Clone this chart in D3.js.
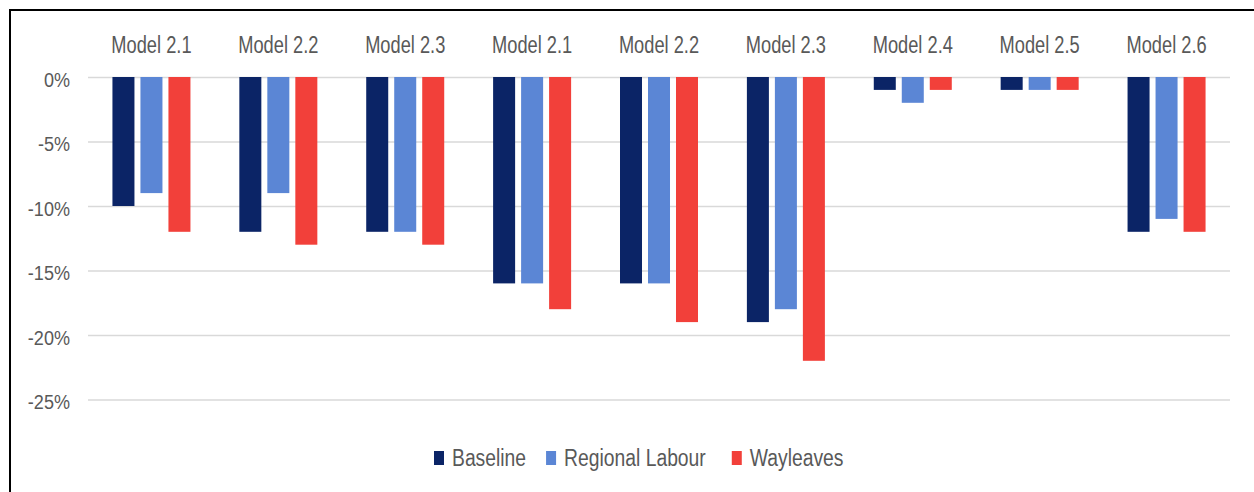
<!DOCTYPE html>
<html>
<head>
<meta charset="utf-8">
<script src="https://cdn.jsdelivr.net/npm/d3@7"></script>
<style>
  html, body { margin: 0; padding: 0; background: #fff; }
  svg { display: block; }
  text { font-family: "Liberation Sans", Arial, sans-serif; fill: #595959; }
</style>
</head>
<body>
<svg id="chart" width="1254" height="492"></svg>
<script>
const categories = ["Model 2.1","Model 2.2","Model 2.3","Model 2.1","Model 2.2","Model 2.3","Model 2.4","Model 2.5","Model 2.6"];
const seriesNames = ["Baseline","Regional Labour","Wayleaves"];
const baseline = [-10,-12,-12,-16,-16,-19,-1,-1,-12];
const regionalLabour = [-9,-9,-12,-16,-16,-18,-2,-1,-11];
const wayleaves = [-12,-13,-13,-18,-19,-22,-1,-1,-12];
const yTicks = [0,-5,-10,-15,-20,-25];
const colors = ["#0b2466","#5b86d5","#f2403a"];

const seriesValues = [baseline, regionalLabour, wayleaves];
const svg = d3.select("#chart");

// frame
svg.append("line").attr("x1",10).attr("x2",10).attr("y1",9).attr("y2",492).attr("stroke","#000").attr("stroke-width",2);
svg.append("line").attr("x1",9).attr("x2",1254).attr("y1",10).attr("y2",10).attr("stroke","#000").attr("stroke-width",2);

const x0 = d3.scaleBand().domain(d3.range(categories.length)).range([88,1230]).paddingInner(0).paddingOuter(0);
const x1 = d3.scaleBand().domain(seriesNames).range([0, x0.bandwidth()]).paddingInner(0.214).paddingOuter(0.873);
const y = d3.scaleLinear().domain([-25,0]).range([399.5,77]);

// gridlines
const yAxis = d3.axisLeft(y).tickValues(yTicks).tickSize(-(1230-88)).tickFormat(d => d + "%");
const gAxis = svg.append("g").attr("transform","translate(88,0)").call(yAxis);
gAxis.select(".domain").remove();
gAxis.selectAll(".tick line").attr("stroke","#d9d9d9").attr("stroke-width",1.5);
gAxis.selectAll(".tick text").remove();
gAxis.selectAll(".tick").append("text")
  .attr("text-anchor","end")
  .attr("transform","translate(-18,9) scale(0.95,1.05)")
  .style("font-size","19px")
  .text(d => d + "%");

// bars
categories.forEach((c,i) => {
  const g = svg.append("g").attr("transform",`translate(${x0(i)},0)`);
  seriesNames.forEach((s,j) => {
    const v = seriesValues[j][i];
    g.append("rect")
      .attr("x", x1(s))
      .attr("width", x1.bandwidth())
      .attr("y", y(0))
      .attr("height", y(v) - y(0))
      .attr("fill", colors[j]);
  });
  svg.append("text")
    .attr("text-anchor","middle")
    .attr("transform",`translate(${x0(i)+x0.bandwidth()/2},53) scale(0.87,1.1)`)
    .style("font-size","21px")
    .text(c);
});

// legend
const gaps = [20, 26, 0];
let lx = 434;
const lg = svg.append("g");
seriesNames.forEach((s,j) => {
  lg.append("rect").attr("x",lx).attr("y",451).attr("width",10).attr("height",14).attr("fill",colors[j]);
  const t = lg.append("text")
    .attr("transform",`translate(${lx+18},466) scale(0.92,1.1)`)
    .style("font-size","21px")
    .text(s);
  const w = t.node().getComputedTextLength()*0.92;
  lx = lx + 18 + w + gaps[j];
});
</script>
</body>
</html>
